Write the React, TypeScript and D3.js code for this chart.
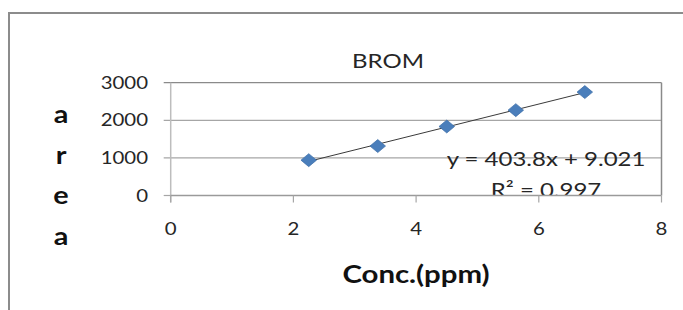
import * as d3 from 'd3';

// readings of the calibration points (Conc. in ppm, peak area)
const conc = [2.25, 3.375, 4.5, 5.625, 6.75];
const area = [940, 1315, 1835, 2270, 2750];
const xTicks = [0, 2, 4, 6, 8];
const yTicks = [0, 1000, 2000, 3000];
const title = 'BROM';
const xTitle = 'Conc.(ppm)';
const yTitle = ['a', 'r', 'e', 'a'];
const eqText = 'y = 403.8x + 9.021';
const r2Text = 'R² = 0.997';

const W = 683;
const H = 310;
const SX = 1.2; // the original picture is stretched sideways
const font = 'Lato, "Open Sans", sans-serif';

export default function App() {
  const left = 170.7;
  const right = 661.5;
  const top = 82.7;
  const bottom = 195.5;

  const x = d3.scaleLinear().domain([0, 8]).range([left, right]);
  const y = d3.scaleLinear().domain([0, 3000]).range([bottom, top]);

  // least squares trend line
  const mx = d3.mean(conc)!;
  const my = d3.mean(area)!;
  const slope =
    d3.sum(conc, (c, i) => (c - mx) * (area[i] - my)) / d3.sum(conc, (c) => (c - mx) ** 2);
  const icpt = my - slope * mx;
  const trend = d3.line<number>()
    .x((c) => x(c))
    .y((c) => y(slope * c + icpt));
  const xMin = d3.min(conc)!;
  const xMax = d3.max(conc)!;

  const diamond = d3.symbol().type(d3.symbolSquare).size(84)();

  const txt = (tx: number, ty: number) => `translate(${tx},${ty}) scale(${SX},1)`;

  return (
    <svg width={W} height={H} style={{ position: 'absolute', left: 0, top: 0, background: '#fff' }}>
      <defs>
        <clipPath id="plot">
          <rect x={left} y={top} width={right - left} height={bottom - top} />
        </clipPath>
      </defs>

      {/* chart area frame */}
      <rect x={9} y={13} width={W + 20} height={H + 20} fill="#fff" stroke="#8c8c8c" strokeWidth={2} />

      {/* gridlines */}
      {yTicks.filter((t) => t > 0).map((t) => (
        <line key={t} x1={left - 7} x2={right} y1={y(t)} y2={y(t)}
          stroke={t === 3000 ? '#8a8a8a' : '#a6a6a6'} strokeWidth={1.2} />
      ))}
      <line x1={right} x2={right} y1={top} y2={bottom} stroke="#8a8a8a" strokeWidth={1.5} />
      {/* y axis */}
      <line x1={left} x2={left} y1={top} y2={bottom + 7} stroke="#bdbdbd" strokeWidth={1.5} />
      <line x1={left - 7} x2={left} y1={y(0)} y2={y(0)} stroke="#a6a6a6" strokeWidth={1.2} />

      {/* regression annotation, cut off by the plot frame */}
      <g clipPath="url(#plot)" fontFamily={font} fontSize={20} fill="#262626" textAnchor="middle">
        <text transform={txt(546, 166)}>{eqText}</text>
        <text transform={txt(546, 196.5)}>{r2Text}</text>
      </g>

      {/* x axis */}
      <line x1={left} x2={right} y1={bottom} y2={bottom} stroke="#9a9a9a" strokeWidth={1.5} />
      {xTicks.map((t) => (
        <line key={t} x1={x(t)} x2={x(t)} y1={bottom} y2={bottom + 7} stroke="#a6a6a6" strokeWidth={1.2} />
      ))}

      {/* trend line and points */}
      <path d={trend([xMin, xMax]) ?? ''} fill="none" stroke="#3a3a3a" strokeWidth={1} />
      {conc.map((c, i) => (
        <path key={c} d={diamond ?? ''} fill="#4a7ebb" stroke="#3f6fa8" strokeWidth={0.6}
          transform={`translate(${x(c)},${y(area[i])}) scale(${SX},1) rotate(45)`} />
      ))}

      {/* tick labels */}
      <g fontFamily={font} fontSize={17} fill="#262626">
        {yTicks.map((t) => (
          <text key={t} transform={txt(148, y(t))} dy="0.36em" textAnchor="end">{t}</text>
        ))}
        {xTicks.map((t) => (
          <text key={t} transform={txt(x(t), 235)} textAnchor="middle">{t}</text>
        ))}
      </g>

      <text transform={txt(388, 67.5)} textAnchor="middle" fontFamily={font} fontSize={20} fill="#262626">
        {title}
      </text>
      <text transform={txt(416, 283)} textAnchor="middle" fontFamily={font} fontSize={24.5}
        fontWeight="bold" fill="#111">
        {xTitle}
      </text>
      {yTitle.map((ch, i) => (
        <text key={i} transform={txt(61, 123 + i * 40.6)} textAnchor="middle" fontFamily={font}
          fontSize={24} fontWeight="bold" fill="#111">
          {ch}
        </text>
      ))}
    </svg>
  );
}
